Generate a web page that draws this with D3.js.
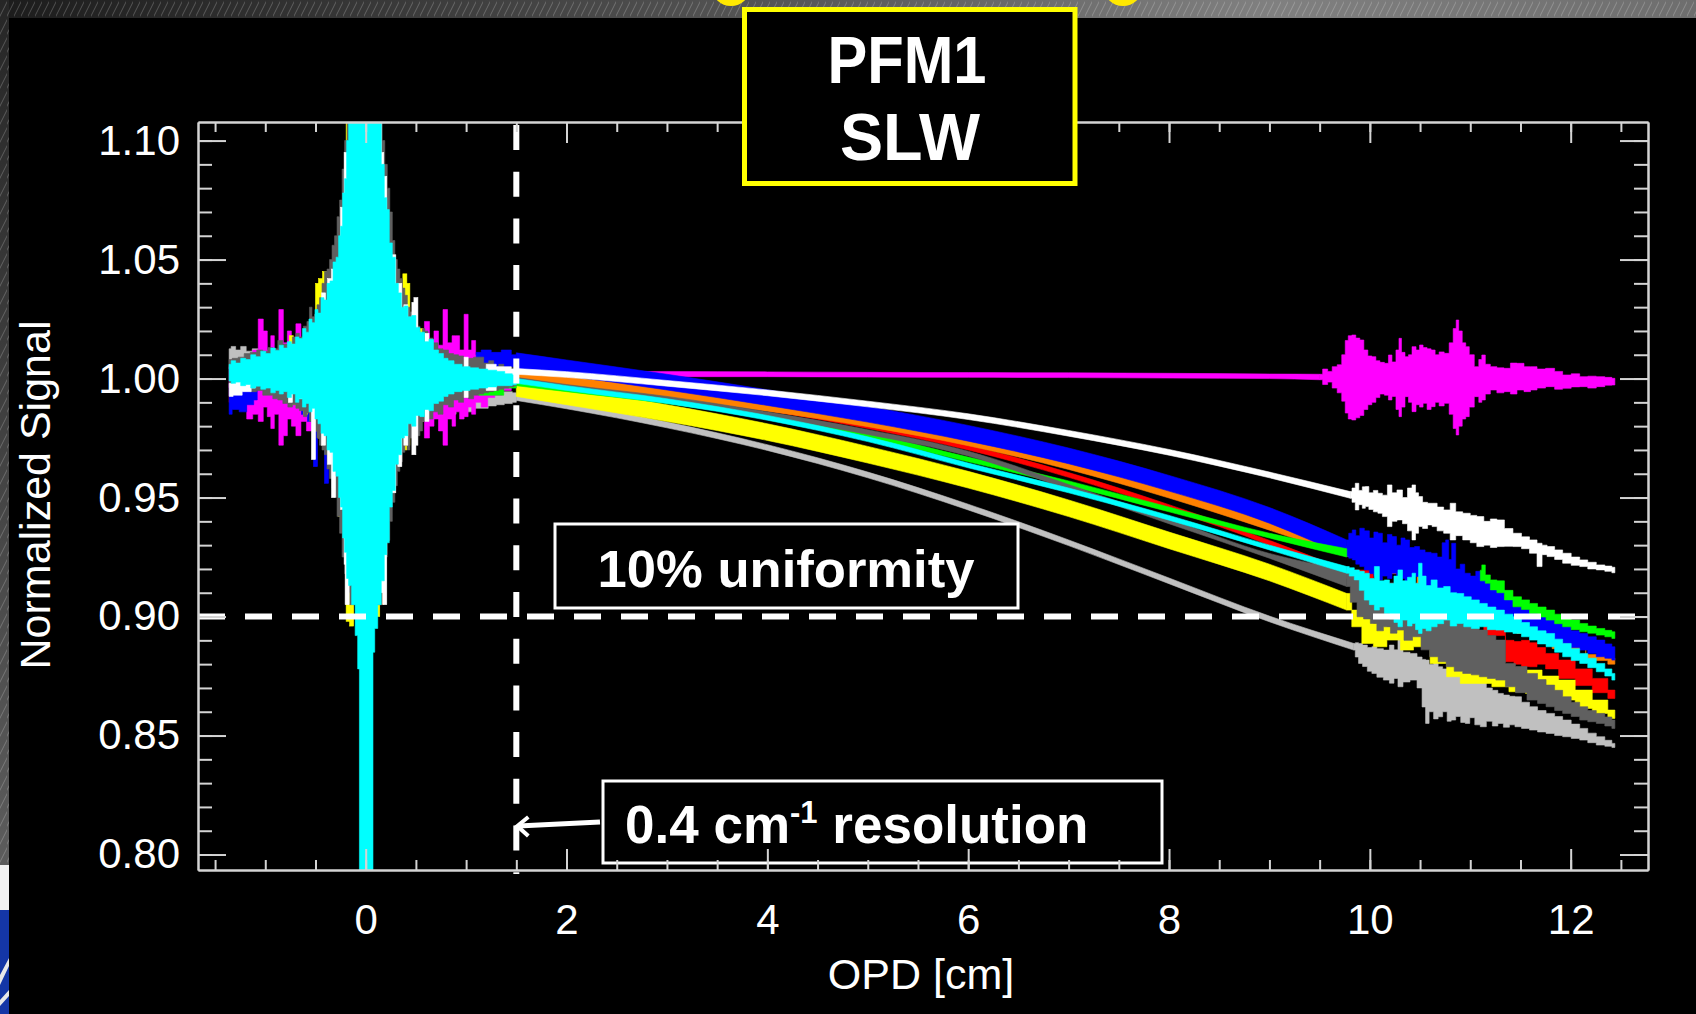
<!DOCTYPE html>
<html>
<head>
<meta charset="utf-8">
<script src="https://cdn.jsdelivr.net/npm/d3@7"></script>
<style>
  html, body { margin: 0; padding: 0; background: #000; }
  svg { display: block; }
  text { font-family: "Liberation Sans", Arial, Helvetica, sans-serif; }
</style>
</head>
<body>
<svg id="chart" width="1696" height="1014"></svg>
<script>
// axis ticks
const xTicks = [0, 2, 4, 6, 8, 10, 12];
const yTicks = [0.80, 0.85, 0.90, 0.95, 1.00, 1.05, 1.10];
const uniformityLevel = 0.90;   // horizontal dashed line
const resolutionOPD = 1.5;      // vertical dashed line

// Every trace is an envelope [OPD (cm), low, high].
// burst = pieces around ZPD, spikes = single bars poking out of the burst,
// mid = smooth decay, tail = noisy end of the scan

const lgrayBurst = [[
  [-1.36, 1.004, 1.0125], [-1.32, 1.005, 1.0135], [-1.27, 1.0045, 1.012], [-1.22, 1.005, 1.0135],
  [-1.16, 1.004, 1.0115], [-1.10, 1.0045, 1.0125], [-1.04, 1.003, 1.011], [-0.98, 1.003, 1.0105],
  [-0.92, 1.001, 1.009], [-0.86, 1.000, 1.008], [-0.75, 0.998, 1.006], [-0.50, 0.995, 1.004],
  [0.30, 0.986, 0.996], [0.55, 0.9845, 0.9935], [0.62, 0.986, 0.993], [0.70, 0.985, 0.9945],
  [0.78, 0.9855, 0.993], [0.86, 0.985, 0.9945], [0.94, 0.9865, 0.994], [1.02, 0.986, 0.9935],
  [1.10, 0.9875, 0.9945], [1.18, 0.9875, 0.994], [1.26, 0.9885, 0.995], [1.34, 0.989, 0.9945],
  [1.42, 0.9895, 0.9945], [1.50, 0.990, 0.994]
]];
const lgrayMid = [
  [1.5, 0.9908, 0.9932], [2, 0.9873, 0.9897], [3, 0.9793, 0.9817], [4, 0.9698, 0.9722],
  [5, 0.9583, 0.9607], [6, 0.9448, 0.9472], [7, 0.9298, 0.9322], [8, 0.9138, 0.9162],
  [9, 0.8978, 0.9002], [9.84, 0.8859, 0.8887]
];
const lgrayTail = [
  [9.84, 0.8859, 0.8887], [9.87, 0.8830, 0.8890], [9.905, 0.8803, 0.8887], [9.95, 0.8790, 0.8880],
  [10.00, 0.8770, 0.8870], [10.04, 0.8761, 0.8873], [10.10, 0.8745, 0.8865], [10.17, 0.8733, 0.8859],
  [10.22, 0.8720, 0.8880], [10.26, 0.8740, 0.8860], [10.30, 0.8705, 0.8901], [10.36, 0.8725, 0.8850],
  [10.44, 0.8733, 0.8845], [10.50, 0.8700, 0.8830], [10.54, 0.8620, 0.8820], [10.57, 0.8551, 0.8817],
  [10.61, 0.8600, 0.8800], [10.66, 0.8570, 0.8810], [10.70, 0.8579, 0.8789], [10.75, 0.8600, 0.8780],
  [10.79, 0.8560, 0.8770], [10.83, 0.8565, 0.8761], [10.88, 0.8580, 0.8750], [10.93, 0.8555, 0.8770],
  [10.97, 0.8551, 0.8775], [11.02, 0.8575, 0.8740], [11.07, 0.8545, 0.8750], [11.13, 0.8537, 0.8733],
  [11.19, 0.8560, 0.8700], [11.25, 0.8540, 0.8690], [11.30, 0.8551, 0.8677], [11.36, 0.8535, 0.8670],
  [11.42, 0.8545, 0.8665], [11.47, 0.8537, 0.8663], [11.55, 0.8530, 0.8640], [11.63, 0.8523, 0.8621],
  [11.71, 0.8515, 0.8605], [11.80, 0.8509, 0.8593], [11.88, 0.8500, 0.8580], [11.96, 0.8495, 0.8565],
  [12.05, 0.8488, 0.8548], [12.13, 0.8481, 0.8530], [12.21, 0.8470, 0.8510], [12.30, 0.8460, 0.8495],
  [12.38, 0.8455, 0.8480], [12.44, 0.8450, 0.8467]
];

const magentaBurst = [[
  [-1.36, 0.996, 1.005], [-1.30, 0.995, 1.008], [-1.22, 0.990, 1.006], [-1.15, 0.983, 1.010],
  [-1.10, 0.985, 1.012], [-1.04, 0.982, 1.025], [-1.00, 0.988, 1.020], [-0.96, 0.984, 1.012],
  [-0.93, 0.979, 1.018], [-0.89, 0.985, 1.010], [-0.84, 0.972, 1.029], [-0.80, 0.976, 1.015],
  [-0.76, 0.983, 1.020], [-0.72, 0.980, 1.012], [-0.67, 0.976, 1.023], [-0.62, 0.982, 1.016],
  [-0.56, 0.978, 1.020], [-0.50, 0.982, 1.018], [-0.45, 0.985, 1.015], [0.00, 0.975, 1.025],
  [0.45, 0.982, 1.018], [0.50, 0.978, 1.020], [0.56, 0.982, 1.017], [0.61, 0.975, 1.024],
  [0.66, 0.980, 1.016], [0.70, 0.983, 1.020], [0.75, 0.978, 1.014], [0.79, 0.972, 1.029],
  [0.84, 0.983, 1.015], [0.88, 0.980, 1.018], [0.91, 0.986, 1.018], [0.96, 0.983, 1.012],
  [1.00, 0.984, 1.027], [1.04, 0.988, 1.012], [1.07, 0.985, 1.016], [1.12, 0.990, 1.010],
  [1.18, 0.988, 1.008], [1.25, 0.992, 1.009], [1.32, 0.993, 1.006], [1.40, 0.995, 1.004],
  [1.50, 0.998, 1.003]
]];
const magentaMid = [
  [1.5, 0.9995, 1.0030], [2.0, 1.0005, 1.0028], [3.0, 1.0008, 1.0030], [4.0, 1.0008, 1.0028],
  [5.0, 1.0006, 1.0026], [6.0, 1.0005, 1.0025], [7.0, 1.0004, 1.0024], [8.0, 1.0002, 1.0022],
  [9.0, 1.0000, 1.0019], [9.5, 0.9995, 1.0018]
];
const magentaTail = [
  [9.50, 0.9995, 1.0018], [9.56, 0.9975, 1.0040], [9.60, 0.9985, 1.0030], [9.65, 0.9960, 1.0050],
  [9.70, 0.9940, 1.0058], [9.74, 0.9905, 1.0100], [9.77, 0.9855, 1.0160], [9.80, 0.9830, 1.0180],
  [9.84, 0.9826, 1.0183], [9.88, 0.9835, 1.0170], [9.92, 0.9845, 1.0162], [9.96, 0.9870, 1.0120],
  [10.00, 0.9890, 1.0095], [10.04, 0.9900, 1.0092], [10.08, 0.9920, 1.0075], [10.12, 0.9935, 1.0068],
  [10.17, 0.9930, 1.0064], [10.20, 0.9910, 1.0099], [10.24, 0.9925, 1.0070], [10.28, 0.9870, 1.0120],
  [10.30, 0.9840, 1.0169], [10.33, 0.9880, 1.0110], [10.37, 0.9924, 1.0092], [10.40, 0.9900, 1.0100],
  [10.44, 0.9861, 1.0134], [10.48, 0.9890, 1.0120], [10.51, 0.9880, 1.0141], [10.55, 0.9896, 1.0130],
  [10.59, 0.9870, 1.0125], [10.63, 0.9882, 1.0120], [10.67, 0.9900, 1.0100], [10.71, 0.9885, 1.0112],
  [10.77, 0.9896, 1.0106], [10.81, 0.9850, 1.0150], [10.85, 0.9790, 1.0210], [10.87, 0.9763, 1.0246],
  [10.90, 0.9800, 1.0200], [10.94, 0.9830, 1.0150], [10.97, 0.9840, 1.0134], [11.01, 0.9880, 1.0100],
  [11.07, 0.9924, 1.0050], [11.10, 0.9900, 1.0080], [11.13, 0.9910, 1.0099], [11.17, 0.9935, 1.0060],
  [11.23, 0.9952, 1.0050], [11.30, 0.9940, 1.0045], [11.37, 0.9945, 1.0043], [11.43, 0.9935, 1.0065],
  [11.50, 0.9952, 1.0064], [11.57, 0.9945, 1.0050], [11.63, 0.9952, 1.0050], [11.70, 0.9960, 1.0040],
  [11.80, 0.9966, 1.0043], [11.88, 0.9955, 1.0030], [11.96, 0.9959, 1.0015], [12.05, 0.9965, 1.0020],
  [12.13, 0.9966, 1.0008], [12.21, 0.9960, 1.0010], [12.30, 0.9966, 1.0008], [12.38, 0.9972, 1.0005],
  [12.44, 0.9973, 1.0001]
];

const redBurst = [[
  [-1.36, 0.990, 0.998], [-1.30, 0.992, 0.999], [-1.24, 0.994, 1.000]
]];
const redSpikes = [[-0.49, 0.978, 1.025], [-0.14, 0.906, 0.940], [0.16, 0.906, 0.950]];
const redMid = [
  [1.5, 0.9995, 1.0015], [2, 0.997, 0.999], [3, 0.9925, 0.9945], [4, 0.9865, 0.9885],
  [5, 0.979, 0.981], [6, 0.970, 0.972], [7, 0.9585, 0.9605], [8, 0.945, 0.947],
  [9, 0.930, 0.932], [9.77, 0.916, 0.9195]
];
const redTail = [
  [9.77, 0.9160, 0.9195], [10.30, 0.9100, 0.9140], [10.97, 0.9010, 0.9060], [11.30, 0.8920, 0.8990],
  [11.40, 0.8810, 0.8900], [11.47, 0.8800, 0.8895], [11.55, 0.8790, 0.8900], [11.63, 0.8789, 0.8890],
  [11.70, 0.8800, 0.8870], [11.80, 0.8780, 0.8845], [11.96, 0.8740, 0.8817], [12.13, 0.8710, 0.8780],
  [12.30, 0.8680, 0.8740], [12.44, 0.8656, 0.8691]
];

const orangeBurst = [[[1.20, 0.998, 1.003], [1.50, 0.999, 1.003]]];
const orangeSpikes = [[-0.42, 0.972, 0.980], [0.16, 0.905, 0.930]];
const orangeMid = [
  [1.5, 0.9988, 1.0032], [2, 0.9963, 1.0007], [3, 0.9918, 0.9962], [4, 0.9863, 0.9907],
  [5, 0.9798, 0.9842], [6, 0.9718, 0.9762], [7, 0.9618, 0.9662], [8, 0.9498, 0.9542],
  [9, 0.9363, 0.9407], [9.77, 0.9252, 0.9294]
];
const orangeTail = [
  [9.77, 0.9252, 0.9294], [10.30, 0.9180, 0.9220], [10.64, 0.9140, 0.9180], [11.00, 0.9060, 0.9100],
  [11.30, 0.9000, 0.9040], [11.63, 0.8929, 0.8957], [12.00, 0.8865, 0.8895], [12.30, 0.8815, 0.8840],
  [12.44, 0.8800, 0.8825]
];

const blueBurst = [
  [[-1.36, 0.985, 0.998], [-1.30, 0.987, 0.999], [-1.22, 0.986, 0.998], [-1.15, 0.989, 0.999],
   [-1.08, 0.991, 0.999]],
  [[1.10, 0.999, 1.011], [1.20, 1.002, 1.012], [1.30, 1.004, 1.011], [1.40, 1.005, 1.012],
   [1.50, 1.005, 1.010]]
];
const blueSpikes = [[-0.62, 0.985, 1.000], [-0.56, 0.982, 1.000], [-0.50, 0.963, 1.000],
  [-0.39, 0.956, 0.990], [0.55, 0.982, 1.000]];
const blueMid = [
  [1.5, 1.0042, 1.0108], [2, 1.0012, 1.0078], [3, 0.9952, 1.0018], [4, 0.9887, 0.9953],
  [5, 0.9817, 0.9883], [6, 0.9737, 0.9803], [7, 0.9642, 0.9708], [8, 0.9527, 0.9593],
  [9, 0.9392, 0.9458], [9.77, 0.9252, 0.9322]
];
const blueTail = [
  [9.77, 0.9252, 0.9322], [9.81, 0.9245, 0.9350], [9.84, 0.9238, 0.9364], [9.88, 0.9220, 0.9340],
  [9.92, 0.9210, 0.9371], [9.97, 0.9196, 0.9360], [10.02, 0.9180, 0.9330], [10.06, 0.9170, 0.9355],
  [10.10, 0.9154, 0.9350], [10.15, 0.9170, 0.9310], [10.20, 0.9160, 0.9345], [10.24, 0.9182, 0.9336],
  [10.29, 0.9150, 0.9300], [10.33, 0.9160, 0.9330], [10.37, 0.9140, 0.9322], [10.42, 0.9155, 0.9290],
  [10.47, 0.9168, 0.9294], [10.52, 0.9130, 0.9280], [10.58, 0.9120, 0.9270], [10.64, 0.9112, 0.9266],
  [10.70, 0.9090, 0.9250], [10.74, 0.9080, 0.9310], [10.77, 0.9069, 0.9322], [10.80, 0.9075, 0.9240],
  [10.83, 0.9069, 0.9308], [10.88, 0.9050, 0.9200], [10.92, 0.9040, 0.9220], [10.97, 0.9027, 0.9182],
  [11.03, 0.9020, 0.9170], [11.08, 0.9015, 0.9190], [11.13, 0.9013, 0.9154], [11.20, 0.9005, 0.9140],
  [11.30, 0.8999, 0.9112], [11.38, 0.8980, 0.9080], [11.47, 0.8957, 0.9041], [11.55, 0.8945, 0.9030],
  [11.63, 0.8929, 0.9013], [11.71, 0.8915, 0.9000], [11.80, 0.8901, 0.8985], [11.88, 0.8895, 0.8970],
  [11.96, 0.8887, 0.8957], [12.05, 0.8870, 0.8940], [12.13, 0.8859, 0.8929], [12.21, 0.8845, 0.8915],
  [12.30, 0.8831, 0.8901], [12.38, 0.8825, 0.8885], [12.44, 0.8817, 0.8873]
];

const yellowSpikes = [
  [-0.74, 0.990, 1.018], [-0.71, 0.989, 1.0155], [-0.60, 0.985, 1.018], [-0.48, 0.978, 1.040],
  [-0.45, 0.975, 1.042], [-0.41, 0.972, 1.045], [-0.29, 0.957, 1.050], [-0.25, 0.942, 1.062],
  [-0.175, 0.898, 1.110], [-0.14, 0.896, 0.930], [0.12, 0.900, 1.110], [0.39, 0.970, 1.044],
  [0.42, 0.972, 1.040], [0.55, 0.982, 1.021]
];
const yellowMid = [
  [1.5, 0.9925, 0.9995], [2, 0.989, 0.996], [3, 0.982, 0.989], [4, 0.974, 0.981],
  [5, 0.9645, 0.9715], [6, 0.954, 0.961], [7, 0.942, 0.949], [8, 0.9285, 0.9355],
  [9, 0.915, 0.922], [9.77, 0.9027, 0.9097]
];
const yellowTail = [
  [9.77, 0.9027, 0.9097], [9.87, 0.8957, 0.9027], [9.97, 0.8887, 0.8999], [10.10, 0.8873, 0.8971],
  [10.24, 0.8901, 0.8957], [10.37, 0.8859, 0.8943], [10.50, 0.8873, 0.8929], [10.70, 0.8803, 0.8873],
  [10.83, 0.8747, 0.8845], [10.97, 0.8719, 0.8817], [11.13, 0.8719, 0.8803], [11.30, 0.8705, 0.8789],
  [11.47, 0.8684, 0.8768], [11.63, 0.8677, 0.8775], [11.80, 0.8660, 0.8750], [11.96, 0.8649, 0.8733],
  [12.13, 0.8614, 0.8691], [12.30, 0.8593, 0.8649], [12.44, 0.8572, 0.8607]
];

const greenBurst = [[[1.00, 0.994, 1.003], [1.25, 0.993, 0.999], [1.50, 0.996, 0.999]]];
const greenMid = [
  [1.5, 0.997, 0.999], [2, 0.9945, 0.9965], [3, 0.9895, 0.9915], [4, 0.983, 0.985],
  [5, 0.975, 0.977], [6, 0.965, 0.967], [7, 0.955, 0.957], [8, 0.944, 0.946],
  [9, 0.933, 0.935], [9.77, 0.9250, 0.9285]
];
const greenTail = [
  [11.10, 0.9150, 0.9195], [11.13, 0.9150, 0.9217], [11.17, 0.9140, 0.9175], [11.23, 0.9112, 0.9154],
  [11.30, 0.9100, 0.9150], [11.38, 0.9070, 0.9110], [11.47, 0.9041, 0.9083], [11.55, 0.9030, 0.9070],
  [11.63, 0.9013, 0.9055], [11.71, 0.8998, 0.9040], [11.80, 0.8985, 0.9027], [11.88, 0.8970, 0.9010],
  [11.96, 0.8957, 0.8999], [12.05, 0.8945, 0.8985], [12.13, 0.8936, 0.8971], [12.21, 0.8930, 0.8960],
  [12.30, 0.8922, 0.8950], [12.38, 0.8915, 0.8942], [12.44, 0.8908, 0.8936]
];

const dgrayBurst = [[
  [-1.36, 0.9965, 1.008], [-1.30, 0.997, 1.0085], [-1.24, 0.9955, 1.009], [-1.18, 0.996, 1.0105],
  [-1.12, 0.9945, 1.011], [-1.05, 0.995, 1.012], [-1.00, 0.993, 1.0115], [-0.95, 0.993, 1.013],
  [-0.90, 0.9915, 1.0125], [-0.85, 0.991, 1.016], [-0.80, 0.9895, 1.0145], [-0.75, 0.988, 1.014],
  [-0.71, 0.989, 1.0175], [-0.68, 0.9875, 1.019], [-0.64, 0.9865, 1.0175], [-0.60, 0.984, 1.022],
  [-0.57, 0.9855, 1.024], [-0.55, 0.982, 1.030], [-0.52, 0.980, 1.026], [-0.50, 0.978, 1.027],
  [-0.47, 0.975, 1.031], [-0.45, 0.972, 1.034], [-0.42, 0.970, 1.040], [-0.40, 0.968, 1.045],
  [-0.37, 0.962, 1.046], [-0.35, 0.958, 1.050], [-0.32, 0.954, 1.056], [-0.30, 0.950, 1.060],
  [-0.27, 0.942, 1.068], [-0.25, 0.935, 1.075], [-0.22, 0.925, 1.088], [-0.20, 0.918, 1.100],
  [-0.17, 0.910, 1.110], [-0.15, 0.905, 1.110], [0.15, 0.905, 1.110], [0.18, 0.915, 1.100],
  [0.20, 0.925, 1.090], [0.23, 0.932, 1.080], [0.25, 0.940, 1.070], [0.28, 0.948, 1.058],
  [0.30, 0.955, 1.050], [0.33, 0.961, 1.046], [0.35, 0.965, 1.042], [0.38, 0.969, 1.038],
  [0.40, 0.972, 1.035], [0.43, 0.970, 1.030], [0.45, 0.975, 1.028], [0.48, 0.978, 1.026],
  [0.50, 0.980, 1.024], [0.53, 0.976, 1.022], [0.55, 0.978, 1.018], [0.58, 0.982, 1.021],
  [0.60, 0.984, 1.020], [0.64, 0.983, 1.017], [0.70, 0.986, 1.015], [0.74, 0.985, 1.0125],
  [0.80, 0.989, 1.012], [0.85, 0.988, 1.0105], [0.90, 0.991, 1.010], [0.95, 0.990, 1.0095],
  [1.00, 0.992, 1.008], [1.05, 0.9915, 1.0085], [1.10, 0.993, 1.009], [1.15, 0.9935, 1.009],
  [1.20, 0.994, 1.0065], [1.25, 0.9945, 1.0075], [1.30, 0.995, 1.005], [1.35, 0.9955, 1.006],
  [1.40, 0.996, 1.004], [1.45, 0.9965, 1.0045], [1.50, 0.997, 1.003]
]];
const dgrayMid = [
  [1.5, 0.9985, 1.0005], [2, 0.9955, 0.9975], [3, 0.9905, 0.9925], [4, 0.984, 0.986],
  [5, 0.9765, 0.9785], [6, 0.9675, 0.9695], [7, 0.9535, 0.9555], [8, 0.939, 0.941],
  [9, 0.9245, 0.9265], [9.77, 0.9126, 0.9196]
];
const dgrayTail = [
  [9.77, 0.9126, 0.9196], [9.84, 0.9060, 0.9170], [9.905, 0.8999, 0.9154], [9.97, 0.8990, 0.9140],
  [10.04, 0.8971, 0.9126], [10.10, 0.8940, 0.9120], [10.17, 0.8957, 0.9112], [10.24, 0.8930, 0.9100],
  [10.30, 0.8943, 0.9083], [10.38, 0.8900, 0.9075], [10.47, 0.8915, 0.9069], [10.55, 0.8860, 0.9055],
  [10.64, 0.8831, 0.9041], [10.72, 0.8810, 0.9025], [10.80, 0.8789, 0.9013], [10.88, 0.8770, 0.8990],
  [10.97, 0.8761, 0.8971], [11.05, 0.8755, 0.8955], [11.13, 0.8747, 0.8943], [11.21, 0.8740, 0.8920],
  [11.30, 0.8733, 0.8901], [11.40, 0.8705, 0.8803], [11.50, 0.8680, 0.8790], [11.63, 0.8649, 0.8761],
  [11.71, 0.8635, 0.8735], [11.80, 0.8621, 0.8712], [11.88, 0.8605, 0.8690], [11.96, 0.8593, 0.8663],
  [12.05, 0.8580, 0.8640], [12.13, 0.8565, 0.8621], [12.21, 0.8558, 0.8605], [12.30, 0.8551, 0.8593],
  [12.38, 0.8540, 0.8578], [12.44, 0.8530, 0.8565]
];

const whiteBurst = [
  [[-1.36, 0.9925, 0.998], [-1.28, 0.993, 0.999], [-1.18, 0.9945, 0.999], [-1.10, 0.996, 0.999]],
  [[1.20, 0.995, 1.006], [1.40, 0.998, 1.005], [1.50, 1.001, 1.004]]
];
const whiteSpikes = [
  [-0.75, 0.990, 1.013], [-0.65, 0.9915, 1.0135], [-0.52, 0.966, 1.0225], [-0.42, 0.972, 1.036],
  [-0.36, 0.964, 1.042], [-0.32, 0.950, 1.046], [-0.23, 0.945, 1.072], [-0.195, 0.922, 1.095],
  [-0.185, 0.905, 1.080], [0.135, 0.918, 1.110], [0.16, 0.910, 1.095], [0.19, 0.905, 1.085],
  [0.28, 0.952, 1.052], [0.34, 0.963, 1.040], [0.40, 0.972, 1.031], [0.48, 0.968, 1.032],
  [0.50, 0.972, 1.034], [0.61, 0.982, 1.019], [1.00, 0.992, 1.009]
];
const whiteMid = [
  [1.5, 1.0018, 1.0042], [2, 1.0005, 1.0029], [3, 0.9968, 0.9992], [4, 0.9928, 0.9952],
  [5, 0.9881, 0.9905], [6, 0.9828, 0.9852], [7, 0.9758, 0.9782], [8, 0.9678, 0.9702],
  [9, 0.9583, 0.9607], [9.805, 0.9497, 0.9525]
];
const whiteTail = [
  [9.805, 0.9497, 0.9525], [9.84, 0.9480, 0.9540], [9.87, 0.9448, 0.9560], [9.91, 0.9470, 0.9530],
  [9.94, 0.9455, 0.9545], [9.97, 0.9462, 0.9546], [10.01, 0.9450, 0.9520], [10.06, 0.9440, 0.9530],
  [10.10, 0.9434, 0.9518], [10.15, 0.9420, 0.9510], [10.20, 0.9378, 0.9553], [10.24, 0.9400, 0.9520],
  [10.30, 0.9406, 0.9532], [10.35, 0.9390, 0.9500], [10.40, 0.9360, 0.9540], [10.44, 0.9322, 0.9553],
  [10.47, 0.9350, 0.9520], [10.50, 0.9378, 0.9504], [10.55, 0.9370, 0.9480], [10.60, 0.9385, 0.9476],
  [10.64, 0.9378, 0.9476], [10.70, 0.9360, 0.9460], [10.77, 0.9350, 0.9448], [10.83, 0.9322, 0.9476],
  [10.88, 0.9340, 0.9440], [10.97, 0.9322, 0.9434], [11.03, 0.9310, 0.9425], [11.10, 0.9294, 0.9420],
  [11.17, 0.9300, 0.9400], [11.23, 0.9290, 0.9410], [11.30, 0.9294, 0.9406], [11.38, 0.9295, 0.9370],
  [11.47, 0.9294, 0.9350], [11.55, 0.9285, 0.9335], [11.63, 0.9266, 0.9322], [11.70, 0.9210, 0.9308],
  [11.73, 0.9260, 0.9300], [11.80, 0.9252, 0.9294], [11.88, 0.9240, 0.9280], [11.96, 0.9224, 0.9266],
  [12.05, 0.9215, 0.9250], [12.13, 0.9210, 0.9238], [12.21, 0.9200, 0.9228], [12.30, 0.9196, 0.9217],
  [12.38, 0.9190, 0.9212], [12.44, 0.9184, 0.9207]
];

const cyanBurst = [[
  [-1.36, 0.999, 1.006], [-1.32, 0.998, 1.0075], [-1.27, 0.9985, 1.0065], [-1.22, 0.997, 1.0085],
  [-1.17, 0.9975, 1.008], [-1.12, 0.996, 1.010], [-1.07, 0.9968, 1.0092], [-1.02, 0.9955, 1.0115],
  [-0.97, 0.996, 1.0105], [-0.92, 0.994, 1.0128], [-0.88, 0.995, 1.0118], [-0.84, 0.9935, 1.014],
  [-0.80, 0.9945, 1.0128], [-0.76, 0.992, 1.0155], [-0.72, 0.9935, 1.0145], [-0.68, 0.990, 1.0175],
  [-0.65, 0.9915, 1.0168], [-0.61, 0.988, 1.021], [-0.58, 0.9895, 1.0195], [-0.55, 0.986, 1.025],
  [-0.52, 0.9875, 1.0235], [-0.49, 0.983, 1.029], [-0.46, 0.981, 1.0275], [-0.43, 0.977, 1.034],
  [-0.40, 0.976, 1.033], [-0.37, 0.970, 1.040], [-0.34, 0.969, 1.041], [-0.31, 0.961, 1.049],
  [-0.28, 0.959, 1.051], [-0.26, 0.950, 1.060], [-0.24, 0.946, 1.064], [-0.22, 0.933, 1.078],
  [-0.20, 0.927, 1.084], [-0.18, 0.916, 1.100], [-0.16, 0.913, 1.110], [-0.12, 0.905, 1.110],
  [-0.09, 0.892, 1.110], [-0.07, 0.878, 1.110], [-0.055, 0.7935, 1.110], [0.065, 0.7935, 1.110],
  [0.08, 0.885, 1.110], [0.10, 0.895, 1.110], [0.14, 0.905, 1.110], [0.17, 0.915, 1.090],
  [0.20, 0.926, 1.076], [0.22, 0.931, 1.071], [0.25, 0.946, 1.057], [0.28, 0.953, 1.051],
  [0.31, 0.964, 1.040], [0.34, 0.968, 1.036], [0.37, 0.975, 1.030], [0.40, 0.976, 1.0305],
  [0.44, 0.981, 1.026], [0.48, 0.980, 1.0265], [0.52, 0.9845, 1.0215], [0.56, 0.984, 1.0195],
  [0.61, 0.987, 1.0155], [0.65, 0.9865, 1.0165], [0.70, 0.9895, 1.012], [0.75, 0.9905, 1.0105],
  [0.80, 0.9925, 1.0085], [0.84, 0.9935, 1.0075], [0.92, 0.9945, 1.006], [1.00, 0.995, 1.005],
  [1.08, 0.9955, 1.0045], [1.17, 0.996, 1.004], [1.26, 0.9965, 1.0035], [1.35, 0.997, 1.003],
  [1.42, 0.997, 1.002], [1.50, 0.9974, 1.0015]
]];
const cyanMid = [
  [1.5, 0.998, 1.000], [2, 0.995, 0.997], [3, 0.9895, 0.9915], [4, 0.9825, 0.9845],
  [5, 0.9735, 0.9755], [6, 0.9625, 0.9645], [7, 0.952, 0.954], [8, 0.9405, 0.9425],
  [9, 0.928, 0.930], [9.77, 0.9182, 0.9210]
];
const cyanTail = [
  [9.77, 0.9182, 0.9210], [9.82, 0.9170, 0.9205], [9.87, 0.9154, 0.9196], [9.92, 0.9110, 0.9190],
  [9.97, 0.9069, 0.9182], [10.02, 0.9050, 0.9160], [10.07, 0.9027, 0.9210], [10.12, 0.9040, 0.9150],
  [10.17, 0.9013, 0.9154], [10.22, 0.8990, 0.9140], [10.26, 0.8975, 0.9170], [10.30, 0.8957, 0.9196],
  [10.35, 0.8985, 0.9150], [10.40, 0.8960, 0.9165], [10.44, 0.8971, 0.9182], [10.47, 0.8945, 0.9140],
  [10.50, 0.8929, 0.9224], [10.54, 0.8950, 0.9170], [10.58, 0.8940, 0.9130], [10.64, 0.8957, 0.9154],
  [10.70, 0.8970, 0.9120], [10.77, 0.8985, 0.9126], [10.83, 0.8960, 0.9100], [10.90, 0.8971, 0.9097],
  [10.97, 0.8957, 0.9083], [11.05, 0.8950, 0.9070], [11.13, 0.8957, 0.9055], [11.21, 0.8945, 0.9040],
  [11.30, 0.8943, 0.9027], [11.38, 0.8935, 0.9010], [11.47, 0.8929, 0.8999], [11.55, 0.8915, 0.8975],
  [11.63, 0.8901, 0.8957], [11.71, 0.8885, 0.8940], [11.80, 0.8873, 0.8929], [11.88, 0.8850, 0.8905],
  [11.96, 0.8831, 0.8887], [12.05, 0.8815, 0.8865], [12.13, 0.8803, 0.8845], [12.21, 0.8785, 0.8825],
  [12.30, 0.8768, 0.8803], [12.38, 0.8750, 0.8780], [12.44, 0.8733, 0.8761]
];

// draw order, bottom to top
const traces = [
  { color: "#c0c0c0", burst: lgrayBurst,   spikes: [],           mid: lgrayMid,   tail: lgrayTail },
  { color: "#ff00ff", burst: magentaBurst, spikes: [],           mid: magentaMid, tail: magentaTail },
  { color: "#ff0000", burst: redBurst,     spikes: redSpikes,    mid: redMid,     tail: redTail },
  { color: "#ff8000", burst: orangeBurst,  spikes: orangeSpikes, mid: orangeMid,  tail: orangeTail },
  { color: "#0000ff", burst: blueBurst,    spikes: blueSpikes,   mid: blueMid,    tail: blueTail },
  { color: "#ffff00", burst: [],           spikes: yellowSpikes, mid: yellowMid,  tail: yellowTail },
  { color: "#00ff00", burst: greenBurst,   spikes: [],           mid: greenMid,   tail: greenTail },
  { color: "#606060", burst: dgrayBurst,   spikes: [],           mid: dgrayMid,   tail: dgrayTail },
  { color: "#ffffff", burst: whiteBurst,   spikes: whiteSpikes,  mid: whiteMid,   tail: whiteTail },
  { color: "#00ffff", burst: cyanBurst,    spikes: [],           mid: cyanMid,    tail: cyanTail }
];

let svg = d3.select("#chart");
const W = 1696, H = 1014;

let x = d3.scaleLinear().domain([-1.67, 12.77]).range([198, 1648]);
let y = d3.scaleLinear().domain([0.7935, 1.1078]).range([870, 122]);

// slide background bits (hatched strip at top and left, logo corner)
let defs = svg.append("defs");
let tg = defs.append("linearGradient").attr("id", "topGrad");
tg.append("stop").attr("offset", 0).attr("stop-color", "#1c1c1c");
tg.append("stop").attr("offset", 0.45).attr("stop-color", "#555");
tg.append("stop").attr("offset", 0.75).attr("stop-color", "#808080");
tg.append("stop").attr("offset", 1).attr("stop-color", "#6e6e6e");
let lg = defs.append("linearGradient").attr("id", "leftGrad")
    .attr("x1", 0).attr("x2", 0).attr("y1", 0).attr("y2", 1);
lg.append("stop").attr("offset", 0).attr("stop-color", "#262626");
lg.append("stop").attr("offset", 1).attr("stop-color", "#5c5c5c");
defs.append("pattern").attr("id", "hatch")
    .attr("patternUnits", "userSpaceOnUse").attr("width", 7).attr("height", 18)
  .append("path").attr("d", "M-1,18 L8,0")
    .attr("stroke", "rgba(255,255,255,0.22)").attr("stroke-width", 1);
defs.append("clipPath").attr("id", "plotClip")
  .append("rect").attr("x", 198).attr("y", 122).attr("width", 1450).attr("height", 748);

svg.append("rect").attr("width", W).attr("height", H).attr("fill", "#000");
svg.append("rect").attr("width", W).attr("height", 18).attr("fill", "url(#topGrad)");
svg.append("rect").attr("width", W).attr("height", 18).attr("fill", "url(#hatch)");
svg.append("rect").attr("width", 9).attr("height", 865).attr("fill", "url(#leftGrad)");
svg.append("rect").attr("width", 9).attr("height", 865).attr("fill", "url(#hatch)");
svg.append("rect").attr("y", 865).attr("width", 9).attr("height", 45).attr("fill", "#f2f2f2");
svg.append("rect").attr("y", 910).attr("width", 9).attr("height", 104).attr("fill", "#1436a6");
svg.append("path").attr("d", "M0,975 L9,958 L9,966 L0,985 Z M0,1000 L9,990 L9,996 L0,1006 Z")
    .attr("fill", "#e8e8e8");
// bottoms of the yellow slide title letters
svg.selectAll(".blob").data([731, 1123]).enter().append("ellipse")
    .attr("cx", d => d).attr("cy", -12).attr("rx", 19).attr("ry", 18).attr("fill", "#ffe800");

// traces
let plot = svg.append("g").attr("clip-path", "url(#plotClip)");

let stepArea = d3.area()
    .x(d => x(d[0])).y0(d => y(d[1])).y1(d => y(d[2]))
    .curve(d3.curveStep);
let smoothArea = d3.area()
    .x(d => x(d[0])).y0(d => y(d[1])).y1(d => y(d[2]))
    .curve(d3.curveMonotoneX);

traces.forEach(function(t) {
  let g = plot.append("g").attr("fill", t.color).attr("stroke", t.color).attr("stroke-width", 0.6);
  t.burst.forEach(function(seg) {
    g.append("path").attr("d", stepArea(seg));
  });
  g.selectAll(".spike").data(t.spikes).enter().append("rect")
      .attr("x", d => x(d[0]) - 2).attr("width", 4)
      .attr("y", d => y(d[2])).attr("height", d => y(d[1]) - y(d[2]));
  g.append("path").attr("d", smoothArea(t.mid));
  g.append("path").attr("d", stepArea(t.tail));
});

// reference lines
svg.append("line")
    .attr("x1", 198).attr("x2", 1640)
    .attr("y1", y(uniformityLevel)).attr("y2", y(uniformityLevel))
    .attr("stroke", "#fff").attr("stroke-width", 6).attr("stroke-dasharray", "27,20");
svg.append("line")
    .attr("x1", x(resolutionOPD)).attr("x2", x(resolutionOPD))
    .attr("y1", 125).attr("y2", 874)
    .attr("stroke", "#fff").attr("stroke-width", 6).attr("stroke-dasharray", "25,21.7");

// annotation boxes inside the plot
svg.append("rect").attr("x", 555).attr("y", 524).attr("width", 463).attr("height", 84)
    .attr("fill", "#000").attr("stroke", "#fff").attr("stroke-width", 3);
svg.append("text").attr("x", 786).attr("y", 587)
    .attr("text-anchor", "middle").attr("fill", "#fff")
    .attr("font-size", 52).attr("font-weight", "bold")
    .attr("textLength", 377).attr("lengthAdjust", "spacingAndGlyphs")
    .text("10% uniformity");

svg.append("rect").attr("x", 603).attr("y", 781).attr("width", 559).attr("height", 82)
    .attr("fill", "#000").attr("stroke", "#fff").attr("stroke-width", 3);
let res = svg.append("text").attr("x", 625).attr("y", 843)
    .attr("fill", "#fff").attr("font-size", 53).attr("font-weight", "bold");
res.append("tspan").text("0.4 cm");
res.append("tspan").attr("font-size", 31).attr("dy", -20).text("-1");
res.append("tspan").attr("dy", 20).text(" resolution");

// arrow pointing at the resolution line
svg.append("path").attr("d", "M600,822 L" + (x(resolutionOPD) + 2) + ",826")
    .attr("stroke", "#fff").attr("stroke-width", 5).attr("fill", "none");
svg.append("path")
    .attr("d", "M" + (x(resolutionOPD) + 12) + ",817 L" + (x(resolutionOPD) + 1) + ",826 L" + (x(resolutionOPD) + 12) + ",836")
    .attr("stroke", "#fff").attr("stroke-width", 4).attr("fill", "none");

// axes, IDL style: ticks on all four sides pointing in
function styleAxis(g, labels) {
  g.attr("color", "#d4d4d4");
  g.selectAll("path, line").attr("stroke-width", 2);
  g.selectAll("text")
      .attr("fill", labels ? "#fff" : "none")
      .attr("font-size", 42)
      .attr("font-family", "'Liberation Sans', Arial, Helvetica, sans-serif");
}
const xMinor = d3.range(-1.5, 12.76, 0.5);
const yMinor = d3.range(80, 111, 1).map(v => v / 100);

svg.append("g").attr("transform", "translate(0,870)")
    .call(d3.axisBottom(x).tickValues(xMinor).tickSize(-10).tickSizeOuter(0).tickFormat(""))
    .call(styleAxis, false);
svg.append("g").attr("transform", "translate(0,870)")
    .call(d3.axisBottom(x).tickValues(xTicks).tickSize(-21).tickSizeOuter(0).tickPadding(34).tickFormat(d3.format("d")))
    .call(styleAxis, true);
svg.append("g").attr("transform", "translate(0,122)")
    .call(d3.axisTop(x).tickValues(xMinor).tickSize(-10).tickSizeOuter(0).tickFormat(""))
    .call(styleAxis, false);
svg.append("g").attr("transform", "translate(0,122)")
    .call(d3.axisTop(x).tickValues(xTicks).tickSize(-21).tickSizeOuter(0).tickFormat(""))
    .call(styleAxis, false);
svg.append("g").attr("transform", "translate(198,0)")
    .call(d3.axisLeft(y).tickValues(yMinor).tickSize(-14).tickSizeOuter(0).tickFormat(""))
    .call(styleAxis, false);
svg.append("g").attr("transform", "translate(198,0)")
    .call(d3.axisLeft(y).tickValues(yTicks).tickSize(-28).tickSizeOuter(0).tickPadding(18).tickFormat(d3.format(".2f")))
    .call(styleAxis, true);
svg.append("g").attr("transform", "translate(1648,0)")
    .call(d3.axisRight(y).tickValues(yMinor).tickSize(-14).tickSizeOuter(0).tickFormat(""))
    .call(styleAxis, false);
svg.append("g").attr("transform", "translate(1648,0)")
    .call(d3.axisRight(y).tickValues(yTicks).tickSize(-28).tickSizeOuter(0).tickFormat(""))
    .call(styleAxis, false);

// axis titles
svg.append("text").attr("x", 921).attr("y", 989)
    .attr("text-anchor", "middle").attr("fill", "#fff").attr("font-size", 43)
    .text("OPD [cm]");
svg.append("text").attr("transform", "translate(50,495) rotate(-90)")
    .attr("text-anchor", "middle").attr("fill", "#fff").attr("font-size", 43)
    .text("Normalized Signal");

// detector label box on top of the frame
svg.append("rect").attr("x", 744.5).attr("y", 9.5).attr("width", 330.5).attr("height", 174)
    .attr("fill", "#000").attr("stroke", "#ffff00").attr("stroke-width", 5);
svg.append("text").attr("x", 907).attr("y", 83)
    .attr("text-anchor", "middle").attr("fill", "#fff")
    .attr("font-size", 66).attr("font-weight", "bold")
    .attr("textLength", 159).attr("lengthAdjust", "spacingAndGlyphs")
    .text("PFM1");
svg.append("text").attr("x", 910).attr("y", 160)
    .attr("text-anchor", "middle").attr("fill", "#fff")
    .attr("font-size", 66).attr("font-weight", "bold")
    .attr("textLength", 140).attr("lengthAdjust", "spacingAndGlyphs")
    .text("SLW");
</script>
</body>
</html>
